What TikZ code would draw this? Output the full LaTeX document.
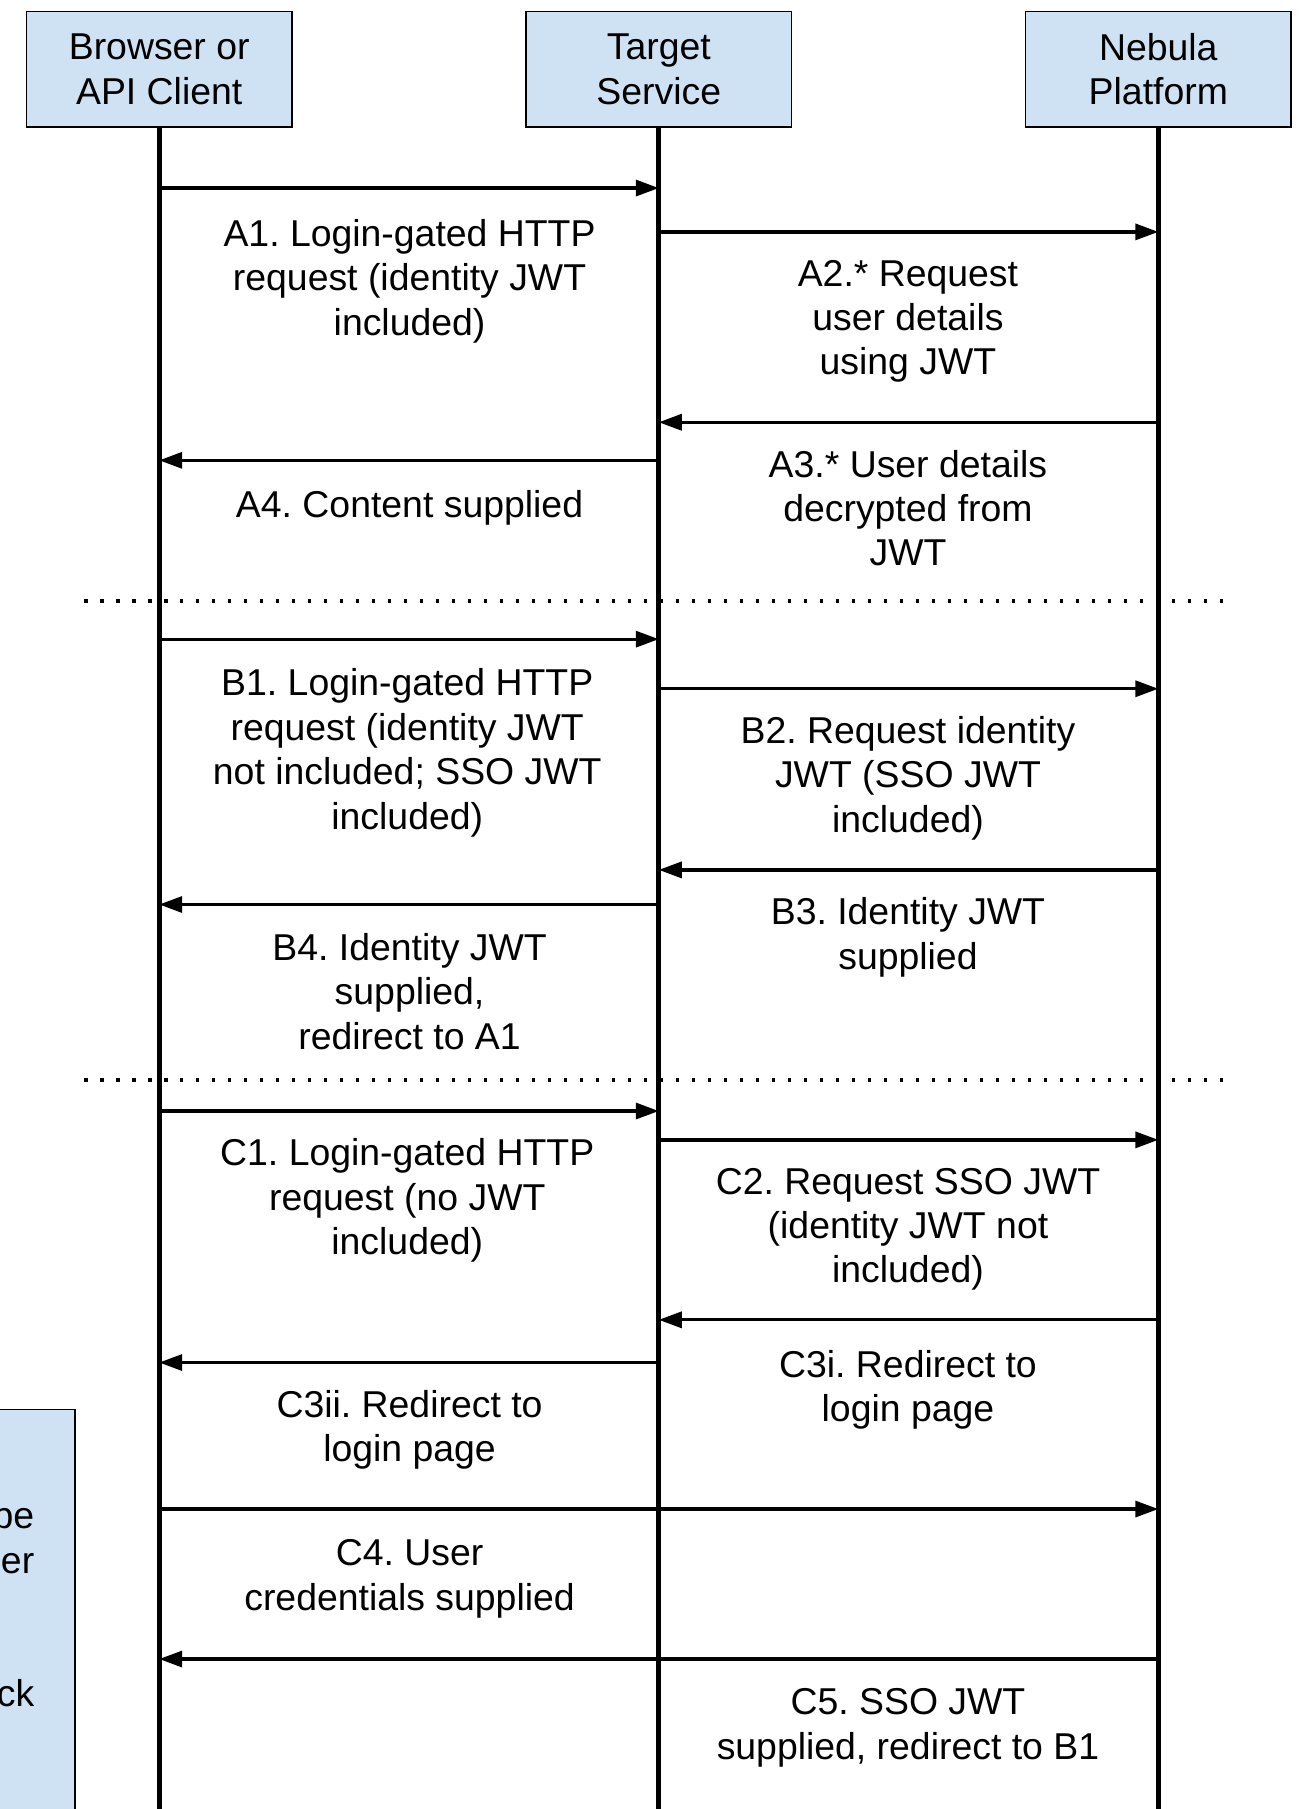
\documentclass[tikz,border=0pt]{standalone}
\usepackage{fontspec}
\setmainfont{Liberation Sans}
\frenchspacing
\usetikzlibrary{arrows.meta}
\definecolor{hdrblue}{HTML}{CFE2F3}
\begin{document}
\begin{tikzpicture}[x=0.577pt,y=-0.577pt,
  every node/.style={font=\fontsize{18.7}{22.2}\selectfont},
  hdr/.style={draw=black,line width=0.75pt,fill=hdrblue,minimum width=132.7pt,minimum height=57.7pt,inner sep=0pt,align=center},
  lbl/.style={align=center,inner sep=0pt,execute at begin node=\strut,execute at end node=\strut},
  life/.style={line width=2.7pt},
  msg/.style={line width=1.65pt,-{Triangle[length=11.5pt,width=8pt]}},
  sepline/.style={line width=1.65pt,dash pattern=on 1.65pt off 6.35pt}
]
\useasboundingbox (0,0) rectangle (1136,1568);
\clip (0,0) rectangle (1136,1568);
% note box cut by the left edge
\node[draw=black,line width=0.75pt,fill=hdrblue,minimum width=57.7pt,minimum height=230pt,inner sep=0pt] (note) at (15,1421) {};
\node[anchor=base east,inner sep=0pt] (n1) at (30,1325) {be};
\node[anchor=base east,inner sep=0pt] (n2) at (30,1364) {ser};
\node[anchor=base east,inner sep=0pt] (n3) at (30,1479) {ck};
% headers
\node[hdr] (h1) at (138,60) {Browser or\\API Client};
\node[hdr] (h2) at (571,60) {Target\\Service};
\node[hdr] (h3) at (1004,60) {Nebula\\Platform};
% lifelines
\coordinate (e1) at (h1 |- 0,1570);
\coordinate (e2) at (h2 |- 0,1570);
\coordinate (e3) at (h3 |- 0,1570);
\draw[life] (h1.south) -- (e1);
\draw[life] (h2.south) -- (e2);
\draw[life] (h3.south) -- (e3);
% separators
\coordinate (s1a) at (73,521); \coordinate (s1b) at (1063,521);
\coordinate (s2a) at (73,936); \coordinate (s2b) at (1063,936);
\draw[sepline] (s1a) -- (s1b);
\draw[sepline] (s2a) -- (s2b);
% A
\draw[msg] (h1 |- 0,163) -- (h2 |- 0,163);
\draw[msg] (h2 |- 0,201) -- (h3 |- 0,201);
\draw[msg] (h3 |- 0,366) -- (h2 |- 0,366);
\draw[msg] (h2 |- 0,399) -- (h1 |- 0,399);
\node[lbl] (la1) at (355,246) {A1. Login-gated HTTP\\request (identity JWT\\included)};
\node[lbl] (la2) at (787,281) {A2.* Request\\user details\\using JWT};
\node[lbl] (la3) at (787,446) {A3.* User details\\decrypted from\\JWT};
\node[lbl] (la4) at (355,441) {A4. Content supplied};
% B
\draw[msg] (h1 |- 0,554) -- (h2 |- 0,554);
\draw[msg] (h2 |- 0,597) -- (h3 |- 0,597);
\draw[msg] (h3 |- 0,754) -- (h2 |- 0,754);
\draw[msg] (h2 |- 0,784) -- (h1 |- 0,784);
\node[lbl] (lb1) at (353,655) {B1. Login-gated HTTP\\request (identity JWT\\not included; SSO JWT\\included)};
\node[lbl] (lb2) at (787,677) {B2. Request identity\\JWT (SSO JWT\\included)};
\node[lbl] (lb3) at (787,815) {B3. Identity JWT\\supplied};
\node[lbl] (lb4) at (355,865) {B4. Identity JWT\\supplied,\\redirect to A1};
% C
\draw[msg] (h1 |- 0,963) -- (h2 |- 0,963);
\draw[msg] (h2 |- 0,988) -- (h3 |- 0,988);
\draw[msg] (h3 |- 0,1144) -- (h2 |- 0,1144);
\draw[msg] (h2 |- 0,1181) -- (h1 |- 0,1181);
\draw[msg] (h1 |- 0,1308) -- (h3 |- 0,1308);
\draw[msg] (h3 |- 0,1438) -- (h1 |- 0,1438);
\node[lbl] (lc1) at (353,1043) {C1. Login-gated HTTP\\request (no JWT\\included)};
\node[lbl] (lc2) at (787,1068) {C2. Request SSO JWT\\(identity JWT not\\included)};
\node[lbl] (lc3i) at (787,1207) {C3i. Redirect to\\login page};
\node[lbl] (lc3ii) at (355,1242) {C3ii. Redirect to\\login page};
\node[lbl] (lc4) at (355,1371) {C4. User\\credentials supplied};
\node[lbl] (lc5) at (787,1500) {C5. SSO JWT\\supplied, redirect to B1};
\end{tikzpicture}
\end{document}
